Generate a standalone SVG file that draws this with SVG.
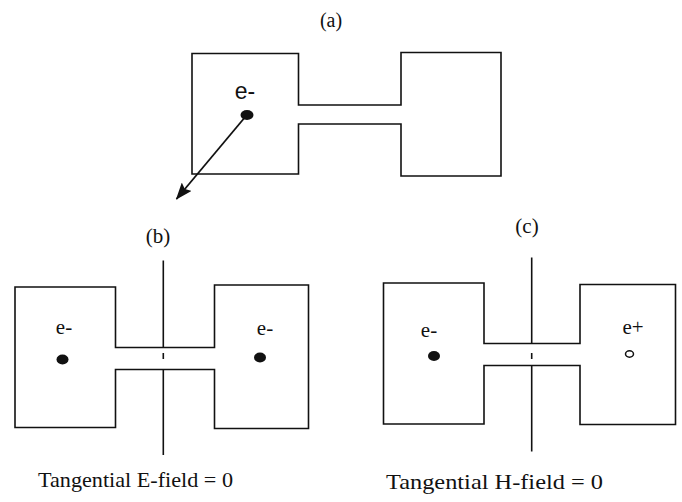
<svg xmlns="http://www.w3.org/2000/svg" width="682" height="502" viewBox="0 0 682 502">
<style>
.outline{fill:none;stroke:#111;stroke-width:1.6;stroke-linejoin:miter}
.ser{font-family:"Liberation Serif","Times New Roman",serif;fill:#111}
.sans{font-family:"Liberation Sans",Arial,sans-serif;fill:#111}
.axis{stroke:#111;stroke-width:1.6}
</style>
<defs>
<marker id="ah" markerWidth="17" markerHeight="13" refX="16" refY="6.5" orient="auto" markerUnits="userSpaceOnUse" viewBox="0 0 17 13">
<path d="M0,0 L17,6.5 L0,13 L3,6.5 Z" fill="#111"/>
</marker>
</defs>
<rect width="682" height="502" fill="#fff"/>

<g id="diagram-a">
<text class="ser" x="331" y="27" font-size="20" text-anchor="middle">(a)</text>
<path class="outline" d="M192,53.5 L298.5,53.5 L298.5,105 L401,105 L401,52.5 L501,52.5 L501,176 L401,176 L401,124 L298.5,124 L298.5,174 L192,174 Z"/>
<text class="sans" x="245" y="99" font-size="23" text-anchor="middle">e-</text>
<ellipse cx="247" cy="115" rx="6.5" ry="5" fill="#111"/>
</g>

<g id="connectors">
<line x1="246" y1="116" x2="176.5" y2="199" stroke="#111" stroke-width="1.8" marker-end="url(#ah)"/>
</g>

<g id="diagram-b">
<text class="ser" x="158" y="243" font-size="21" text-anchor="middle">(b)</text>
<path class="outline" d="M15,287 L115.5,287 L115.5,347.5 L214.5,347.5 L214.5,285 L308.5,285 L308.5,428.5 L214.5,428.5 L214.5,369.5 L115.5,369.5 L115.5,427.5 L15,427.5 Z"/>
<line class="axis" x1="163.3" y1="260.5" x2="163.3" y2="347.5"/>
<line class="axis" x1="163.3" y1="353" x2="163.3" y2="359"/>
<line class="axis" x1="163.3" y1="369.5" x2="163.3" y2="455"/>
<text class="ser" x="64" y="334" font-size="21" text-anchor="middle">e-</text>
<ellipse cx="62.5" cy="359.5" rx="6" ry="5" fill="#111"/>
<text class="ser" x="265" y="335" font-size="21" text-anchor="middle">e-</text>
<ellipse cx="260" cy="357.5" rx="6" ry="5" fill="#111"/>
<text class="ser" x="38" y="487" font-size="21" textLength="195" lengthAdjust="spacingAndGlyphs">Tangential E-field = 0</text>
</g>

<g id="diagram-c">
<text class="ser" x="527" y="233" font-size="21" text-anchor="middle">(c)</text>
<path class="outline" d="M383.5,283 L484,283 L484,343.5 L580,343.5 L580,284.5 L675.5,284.5 L675.5,424.5 L580,424.5 L580,365.5 L484,365.5 L484,424 L383.5,424 Z"/>
<line class="axis" x1="531.7" y1="257.5" x2="531.7" y2="343.5"/>
<line class="axis" x1="531.7" y1="353" x2="531.7" y2="359"/>
<line class="axis" x1="531.7" y1="365.5" x2="531.7" y2="451.5"/>
<text class="ser" x="429" y="337" font-size="21" text-anchor="middle">e-</text>
<ellipse cx="434" cy="356" rx="6" ry="5" fill="#111"/>
<text class="ser" x="633" y="334" font-size="21" text-anchor="middle">e+</text>
<ellipse cx="629.5" cy="354" rx="4" ry="3.2" fill="none" stroke="#111" stroke-width="1.5"/>
<text class="ser" x="386" y="489" font-size="21" textLength="217" lengthAdjust="spacingAndGlyphs">Tangential H-field = 0</text>
</g>
</svg>
